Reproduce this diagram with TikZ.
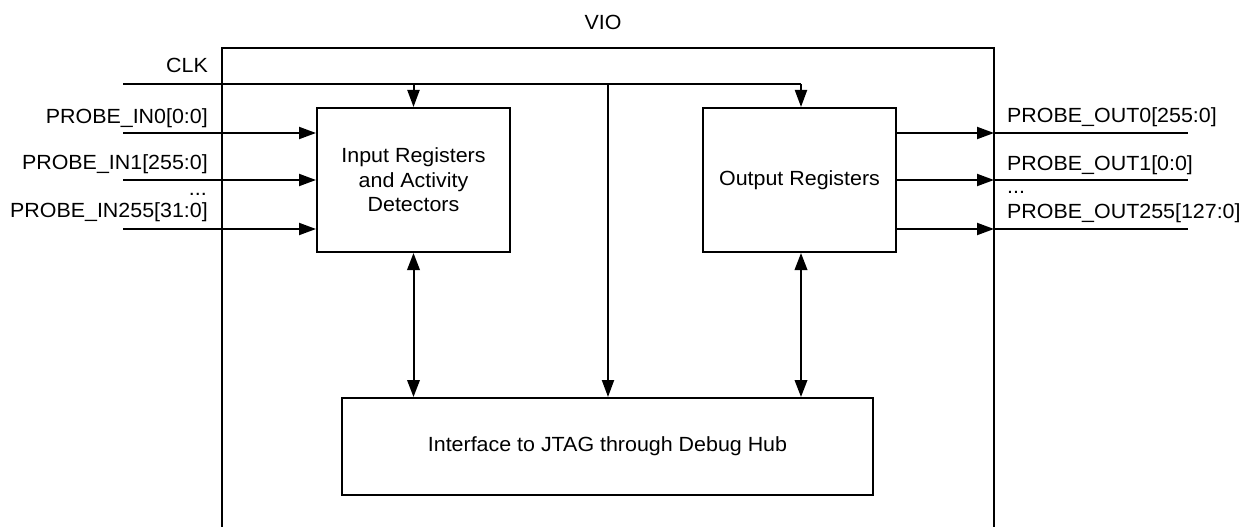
\documentclass[tikz,border=0pt]{standalone}
\usepackage{fontspec}
\setmainfont{Liberation Sans}[FakeStretch=1.045]
\usetikzlibrary{arrows.meta}
\begin{document}
\begin{tikzpicture}[x=1pt,y=-1pt,
  txt/.style={font=\fontsize{20.5}{24.5}\selectfont},
  box/.style={draw,line width=2pt,inner sep=0pt,align=center,txt},
  lbl/.style={inner sep=0pt,txt},
  wire/.style={line width=2pt},
  arr/.style={wire,-{Triangle[length=17pt,width=12pt]}},
  darr/.style={wire,{Triangle[length=17pt,width=12.5pt]}-{Triangle[length=17pt,width=12.5pt]}}]
\useasboundingbox (0,0) rectangle (1243,527);
% outer VIO box (open at bottom)
\draw[wire] (222,527) -- (222,48) -- (994,48) -- (994,527);
\node[lbl,anchor=base] (vio) at (603,30) {VIO};
% blocks
\node[box,minimum width=193pt,minimum height=144pt] (inreg) at (413.5,180) {Input Registers\\and Activity\\Detectors};
\node[box,minimum width=193pt,minimum height=144pt] (outreg) at (799.5,180) {Output Registers};
\node[box,minimum width=531pt,minimum height=97pt] (jtag) at (607.5,446.5) {Interface to JTAG through Debug Hub};
% clock
\coordinate (clk) at (123,84);
\coordinate (clkL) at (413.5,84);
\coordinate (clkM) at (608,84);
\coordinate (clkR) at (801,84);
\node[lbl,anchor=base east] (clklbl) at (208,73) {CLK};
\draw[wire] (clk) -- (clkR);
\draw[arr] (clkR) -- (clkR |- outreg.north);
\draw[arr] (clkL) -- (clkL |- inreg.north);
\draw[arr] (clkM) -- (clkM |- jtag.north);
% inputs
\coordinate (i0) at (123,133);
\coordinate (i1) at (123,180);
\coordinate (i2) at (123,229);
\draw[arr] (i0) -- (inreg.west |- i0);
\draw[arr] (i1) -- (inreg.west |- i1);
\draw[arr] (i2) -- (inreg.west |- i2);
\node[lbl,anchor=base east] (l0) at (208,123) {PROBE\_IN0[0:0]};
\node[lbl,anchor=base east] (l1) at (208,169) {PROBE\_IN1[255:0]};
\node[lbl,anchor=base east] (ld) at (207,195) {...};
\node[lbl,anchor=base east] (l2) at (208,217) {PROBE\_IN255[31:0]};
% outputs
\coordinate (o0) at (994,133);
\coordinate (o1) at (994,180);
\coordinate (o2) at (994,229);
\coordinate (e0) at (1188,133);
\coordinate (e1) at (1188,180);
\coordinate (e2) at (1188,229);
\draw[arr] (outreg.east |- o0) -- (o0);
\draw[arr] (outreg.east |- o1) -- (o1);
\draw[arr] (outreg.east |- o2) -- (o2);
\draw[wire] (o0) -- (e0);
\draw[wire] (o1) -- (e1);
\draw[wire] (o2) -- (e2);
\node[lbl,anchor=base west] (r0) at (1007,122) {PROBE\_OUT0[255:0]};
\node[lbl,anchor=base west] (r1) at (1007,170) {PROBE\_OUT1[0:0]};
\node[lbl,anchor=base west] (rd) at (1007,193) {...};
\node[lbl,anchor=base west] (r2) at (1007,218) {PROBE\_OUT255[127:0]};
% bidirectional links
\draw[darr] (inreg.south) -- (inreg.south |- jtag.north);
\draw[darr] (outreg.south -| clkR) -- (clkR |- jtag.north);
\end{tikzpicture}
\end{document}
